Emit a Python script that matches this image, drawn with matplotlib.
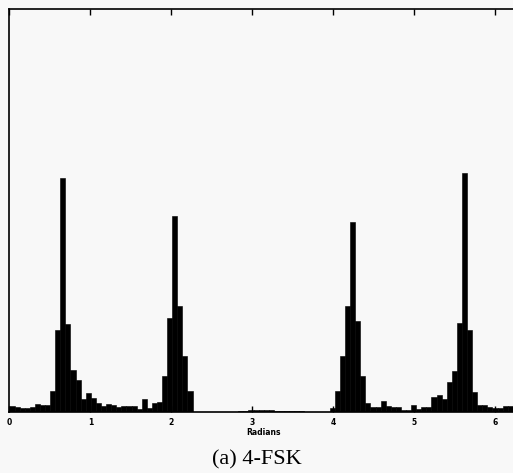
import numpy as np
import matplotlib.pyplot as plt

# histogram counts, 100 equal bins over [0, 2*pi]
counts = [6, 5, 4, 4, 5, 8, 7, 7, 21, 82,
          234, 88, 42, 32, 13, 19, 14, 9, 6, 8,
          7, 5, 6, 6, 6, 3, 13, 4, 9, 10,
          36, 94, 196, 106, 56, 21, 0, 0, 0, 0,
          0, 0, 0, 0, 0, 1, 1, 2, 2, 2,
          2, 2, 1, 1, 1, 1, 1, 1, 0, 0,
          0, 0, 0, 4, 21, 56, 106, 190, 91, 36,
          9, 5, 5, 11, 6, 5, 5, 2, 2, 7,
          3, 5, 5, 15, 17, 13, 30, 41, 89, 239,
          82, 20, 7, 7, 5, 4, 4, 6, 6, 6]
tick_vals = [0, 1, 2, 3, 4, 5, 6]

edges = np.linspace(0, 2 * np.pi, len(counts) + 1)

fig = plt.figure(figsize=(5.13, 4.73), dpi=100, facecolor='#f8f8f8')
ax = fig.add_axes([0.0185, 0.129, 0.991, 0.852])
ax.set_facecolor('#f8f8f8')

ax.hist(edges[:-1], bins=edges, weights=counts, color='black',
        edgecolor='black', linewidth=0.4)

ax.set_xlim(0, 2 * np.pi)
ax.set_ylim(0, 403)
ax.set_xticks(tick_vals)
ax.set_xticklabels([str(t) for t in tick_vals], fontsize=5.5, fontweight='bold')
ax.set_yticks([])
ax.tick_params(axis='x', direction='in', top=True, length=4, width=1, pad=4)
for s in ax.spines.values():
    s.set_linewidth(1.2)

ax.set_xlabel('Radians', fontsize=5.5, fontweight='bold', labelpad=1)

fig.text(0.5, 13 / 473, '(a) 4-FSK', ha='center', va='center',
         family='Liberation Serif', fontsize=16)

fig.savefig('out.png', dpi=100, facecolor=fig.get_facecolor())
